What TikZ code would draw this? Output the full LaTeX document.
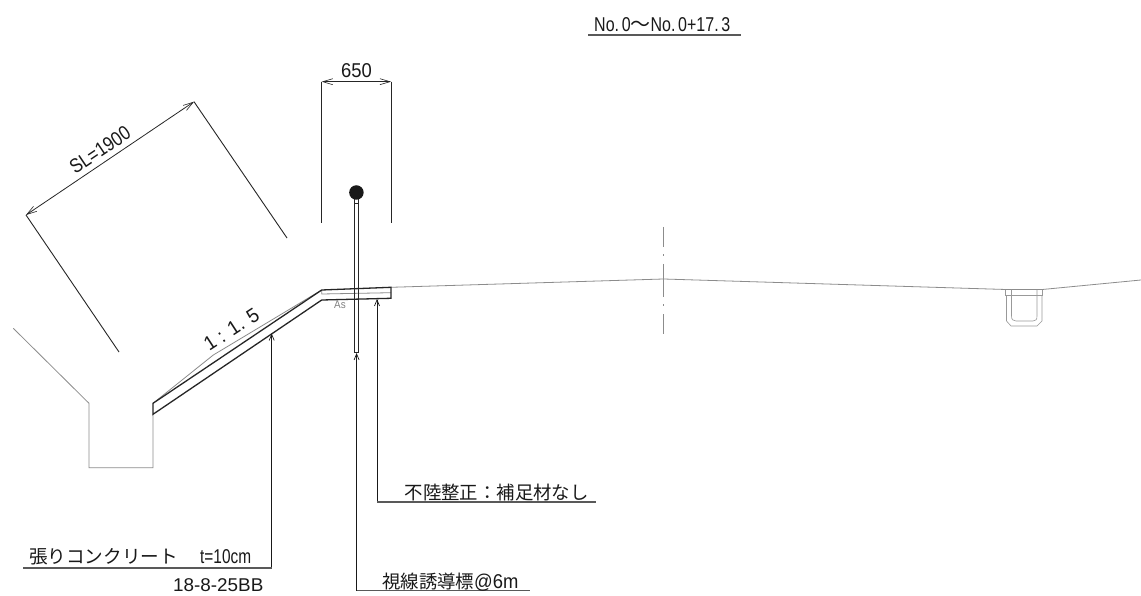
\documentclass[tikz,border=0pt]{standalone}
\usepackage{fontspec}
\usepackage{graphicx}
\setmainfont{Liberation Sans}
\newfontfamily\jpf{Noto Sans CJK JP}
\usetikzlibrary{arrows.meta}
\newcommand{\hw}[2][.85]{\scalebox{#1}[1]{#2}}
\tikzset{
  x=1pt,y=-1pt,
  ink/.style={line width=.9pt,draw=black!85},
  soil/.style={line width=.8pt,draw=black!45},
  slab/.style={line width=1.3pt,draw=black!85,line join=miter},
  dimline/.style={line width=.8pt,draw=black!85,{Straight Barb[length=10pt,width=6pt,line width=.6pt]}-{Straight Barb[length=10pt,width=6pt,line width=.6pt]}},
  leader/.style={line width=.9pt,draw=black!90,-{Straight Barb[length=6pt,width=5pt,line width=.7pt]}},
  shelf/.style={line width=1.1pt,draw=black!65},
  lab/.style={inner sep=0pt,font=\fontsize{20}{20}\selectfont,text=black!90},
  ditch/.style={line width=.6pt,draw=black!40},
}
\begin{document}
\begin{tikzpicture}
\useasboundingbox (0,0) rectangle (1141,596);
\fill[white] (0,0) rectangle (1141,596);
% terrain
\draw[soil] (13.3,328.3) -- (89,403.3) -- (89,467.7) -- (153,467.7) -- (153,414);
\draw[soil] (153,403.3) -- (213.3,355) -- (305,300) -- (321.7,290);
\draw[soil] (391,287.3) -- (663.5,279) -- (1006,289.5) -- (1042.3,289.5) -- (1141,280);
% centre line
\draw[soil] (663.5,227) -- (663.5,247) (663.5,254.5) -- (663.5,256.5) (663.5,264) -- (663.5,297) (663.5,304) -- (663.5,306) (663.5,314) -- (663.5,334);
% U ditch
\draw[ditch] (1005.5,289.5) -- (1005.5,295) -- (1042.5,295) -- (1042.5,289.5);
\draw[ditch] (1006.5,295) -- (1006.5,321) -- (1011,326) -- (1037,326) -- (1042,321) -- (1042,295);
\draw[ditch] (1011.5,289.5) -- (1011.5,316) .. controls (1011.5,319.5) and (1013,321) .. (1016,321) -- (1033,321) .. controls (1036,321) and (1037,319.5) .. (1037,316) -- (1037,289.5);
% concrete and pavement
\draw[soil] (321.7,290) -- (321.7,294) -- (391,292.7);
\draw[slab] (153,403.3) -- (153,414.3) -- (321.7,300) -- (391,298.3) -- (391,287.3) -- (321.7,290) -- cycle;
\node[inner sep=0pt,text=black!50,font=\fontsize{11}{11}\selectfont] (as) at (340,305) {\hw[.9]{As}};
% post
\node[circle,fill=black!90,inner sep=0pt,minimum size=14.5pt] (ball) at (356.4,192.5) {};
\draw[line width=1pt,draw=black!85] (354.3,203.5) -- (354.3,352.7) -- (358.6,352.7) -- (358.6,203.5);
\draw[line width=.8pt,draw=black!85] (354.3,203.5) -- (358.6,203.5) (354.8,199) -- (354.8,203.5) (358.1,199) -- (358.1,203.5);
% dimension 650
\coordinate (d1) at (321.7,81.7); \coordinate (d2) at (391,81.7);
\coordinate (d1b) at (321.7,223); \coordinate (d2b) at (391,223);
\draw[ink] (d1) -- (d1b); \draw[ink] (d2) -- (d2b);
\draw[dimline] (d1) -- (d2);
\node[lab] (t650) at (356.4,70.5) {\hw[.92]{650}};
% dimension SL
\coordinate (s1) at (26,215); \coordinate (s2) at (194,101.7);
\coordinate (s1b) at (119,352); \coordinate (s2b) at (287,238);
\draw[ink] (s1) -- (s1b); \draw[ink] (s2) -- (s2b);
\draw[dimline] (s1) -- (s2);
\node[lab,rotate=34] (tsl) at (100,150) {\hw[.85]{SL=1900}};
\node[lab,rotate=33] (tslope) at (231.5,329.5) {\hw[.95]{1 : 1. 5}};
% leaders
\coordinate (a1) at (271.7,333.5); \coordinate (a2) at (356.6,353); \coordinate (a3) at (377,299);
\coordinate (k1) at (271.7,568); \coordinate (k1e) at (23,568);
\coordinate (k2) at (356.6,590.5); \coordinate (k2e) at (530,590.5);
\coordinate (k3) at (377,502); \coordinate (k3e) at (596,502);
\draw[leader] (k1) -- (a1); \draw[leader] (k2) -- (a2); \draw[leader] (k3) -- (a3);
\draw[shelf] (k1e) -- (k1); \draw[shelf] (k2) -- (k2e); \draw[shelf] (k3) -- (k3e);
\node[lab,anchor=west] (l1) at (29,557) {{\jpf\fontsize{18.6}{18.6}\selectfont 張りコンクリート}};
\node[lab,anchor=west] (l1b) at (200,557) {\hw[.77]{t=10cm}};
\node[lab,anchor=west,font=\fontsize{18.5}{18.5}\selectfont] (l1c) at (173,585.5) {\hw[1.02]{18-8-25BB}};
\node[lab,anchor=west] (l2) at (382,582) {{\jpf\fontsize{18.4}{18.4}\selectfont 視線誘導標}\hw[.92]{@6m}};
\node[lab,anchor=west] (l3) at (404.5,493) {{\jpf\fontsize{18.4}{18.4}\selectfont 不陸整正：補足材なし}};
% title
\coordinate (u1) at (588,35); \coordinate (u2) at (740.5,35);
\draw[shelf] (u1) -- (u2);
\node[lab,anchor=west] (title) at (594,24.5) {\hw[.8]{No.\,0}{\jpf ～}\hw[.8]{No.\,0+17.\,3}};
\end{tikzpicture}
\end{document}
